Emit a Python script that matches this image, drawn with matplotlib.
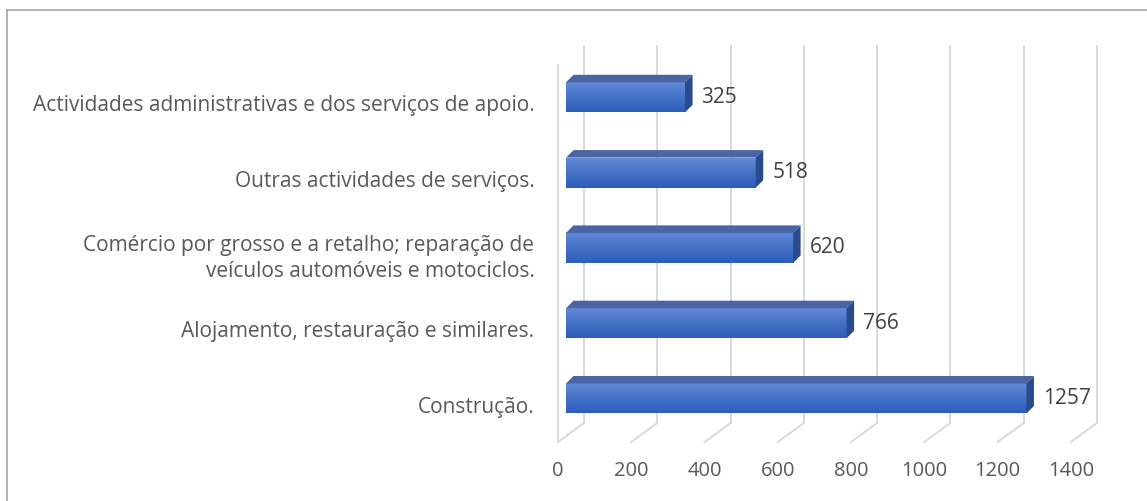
import matplotlib

matplotlib.use("Agg")
import matplotlib.pyplot as plt
import numpy as np
from matplotlib.colors import LinearSegmentedColormap
from matplotlib.lines import Line2D
from matplotlib.patches import Polygon

categories = [
    "Actividades administrativas e dos serviços de apoio.",
    "Outras actividades de serviços.",
    "Comércio por grosso e a retalho; reparação de\nveículos automóveis e motociclos.",
    "Alojamento, restauração e similares.",
    "Construção.",
]
values = [325, 518, 620, 766, 1257]
ticks = [0, 200, 400, 600, 800, 1000, 1200, 1400]

W, H, DPI = 1147, 501, 100
PX_PER_UNIT = 0.3663          # pixels per value unit
PX_PER_CAT = 75.3             # pixels between bars
X_PX0, Y_PX0 = 558, 97.3      # pixel position of value 0 / first bar centre

# 3-D offsets (value units, category units)
WALL_DX, WALL_DY = 26 / PX_PER_UNIT, -19 / PX_PER_CAT
BAR_X0 = 8 / PX_PER_UNIT
BAR_DX, BAR_DY = 7.5 / PX_PER_UNIT, -7.5 / PX_PER_CAT
BAR_HALF = 15 / PX_PER_CAT
FLOOR_Y = (442 - Y_PX0) / PX_PER_CAT
TOP_Y = (65 - Y_PX0) / PX_PER_CAT

GRID = "#d9d9d9"
TEXT = "#595959"

plt.rcParams.update({"font.family": ["Open Sans", "DejaVu Sans"], "font.size": 14.5})

fig = plt.figure(figsize=(W / DPI, H / DPI), dpi=DPI)
left_px, right_px, top_px, bot_px = X_PX0, 1107.5, 40, 450
ax = fig.add_axes([left_px / W, 1 - bot_px / H, (right_px - left_px) / W, (bot_px - top_px) / H])
xmax = (right_px - X_PX0) / PX_PER_UNIT
ylo = (top_px - Y_PX0) / PX_PER_CAT
yhi = (bot_px - Y_PX0) / PX_PER_CAT

# back wall gridlines and floor
for t in ticks:
    ax.plot([t + WALL_DX, t + WALL_DX], [FLOOR_Y + WALL_DY, TOP_Y + WALL_DY], color=GRID, lw=1.4, clip_on=False, zorder=1)
    ax.plot([t, t + WALL_DX], [FLOOR_Y, FLOOR_Y + WALL_DY], color=GRID, lw=1.4, clip_on=False, zorder=1)
ax.plot([0, 0], [FLOOR_Y, TOP_Y], color=GRID, lw=1.4, clip_on=False, zorder=1)

cmap = LinearSegmentedColormap.from_list("bar", ["#6289d8", "#4472c4", "#2d5dbd"])
grad = np.linspace(0, 1, 64).reshape(-1, 1)
for i, v in enumerate(values):
    x0, x1 = BAR_X0, BAR_X0 + v
    yt, yb = i - BAR_HALF, i + BAR_HALF
    ax.imshow(grad, cmap=cmap, aspect="auto", extent=(x0, x1, yb, yt), zorder=3, interpolation="bilinear")
    top = [(x0, yt), (x1, yt), (x1 + BAR_DX, yt + BAR_DY), (x0 + BAR_DX, yt + BAR_DY)]
    ax.add_patch(Polygon(top, closed=True, facecolor="#4a64a4", edgecolor="none", zorder=3))
    side = [(x1, yt), (x1 + BAR_DX, yt + BAR_DY), (x1 + BAR_DX, yb + BAR_DY), (x1, yb)]
    ax.add_patch(Polygon(side, closed=True, facecolor="#2a4a8e", edgecolor="none", zorder=3))
    ax.text(x1 + BAR_DX + 9 / PX_PER_UNIT, i, str(v), ha="left", va="center", color="#404040", fontsize=15)

ax.set_xlim(0, xmax)
ax.set_ylim(yhi, ylo)
ax.set_xticks(ticks)
ax.set_xticklabels([str(t) for t in ticks], color=TEXT)
ax.set_yticks([i + 6 / PX_PER_CAT for i in range(len(categories))])
ax.set_yticklabels(categories, color=TEXT, multialignment="right", linespacing=1.3, fontsize=15)
ax.tick_params(length=0)
ax.tick_params(axis="x", pad=8)
ax.tick_params(axis="y", pad=17)
for s in ax.spines.values():
    s.set_visible(False)
ax.patch.set_alpha(0)

# chart border (top and left visible in crop)
fig.add_artist(Line2D([7.5 / W, 7.5 / W], [0, 1 - 9.5 / H], color="#a6a6a6", lw=1.2))
fig.add_artist(Line2D([7.5 / W, 1], [1 - 9.5 / H, 1 - 9.5 / H], color="#a6a6a6", lw=1.2))

fig.savefig("out.png", dpi=DPI)
